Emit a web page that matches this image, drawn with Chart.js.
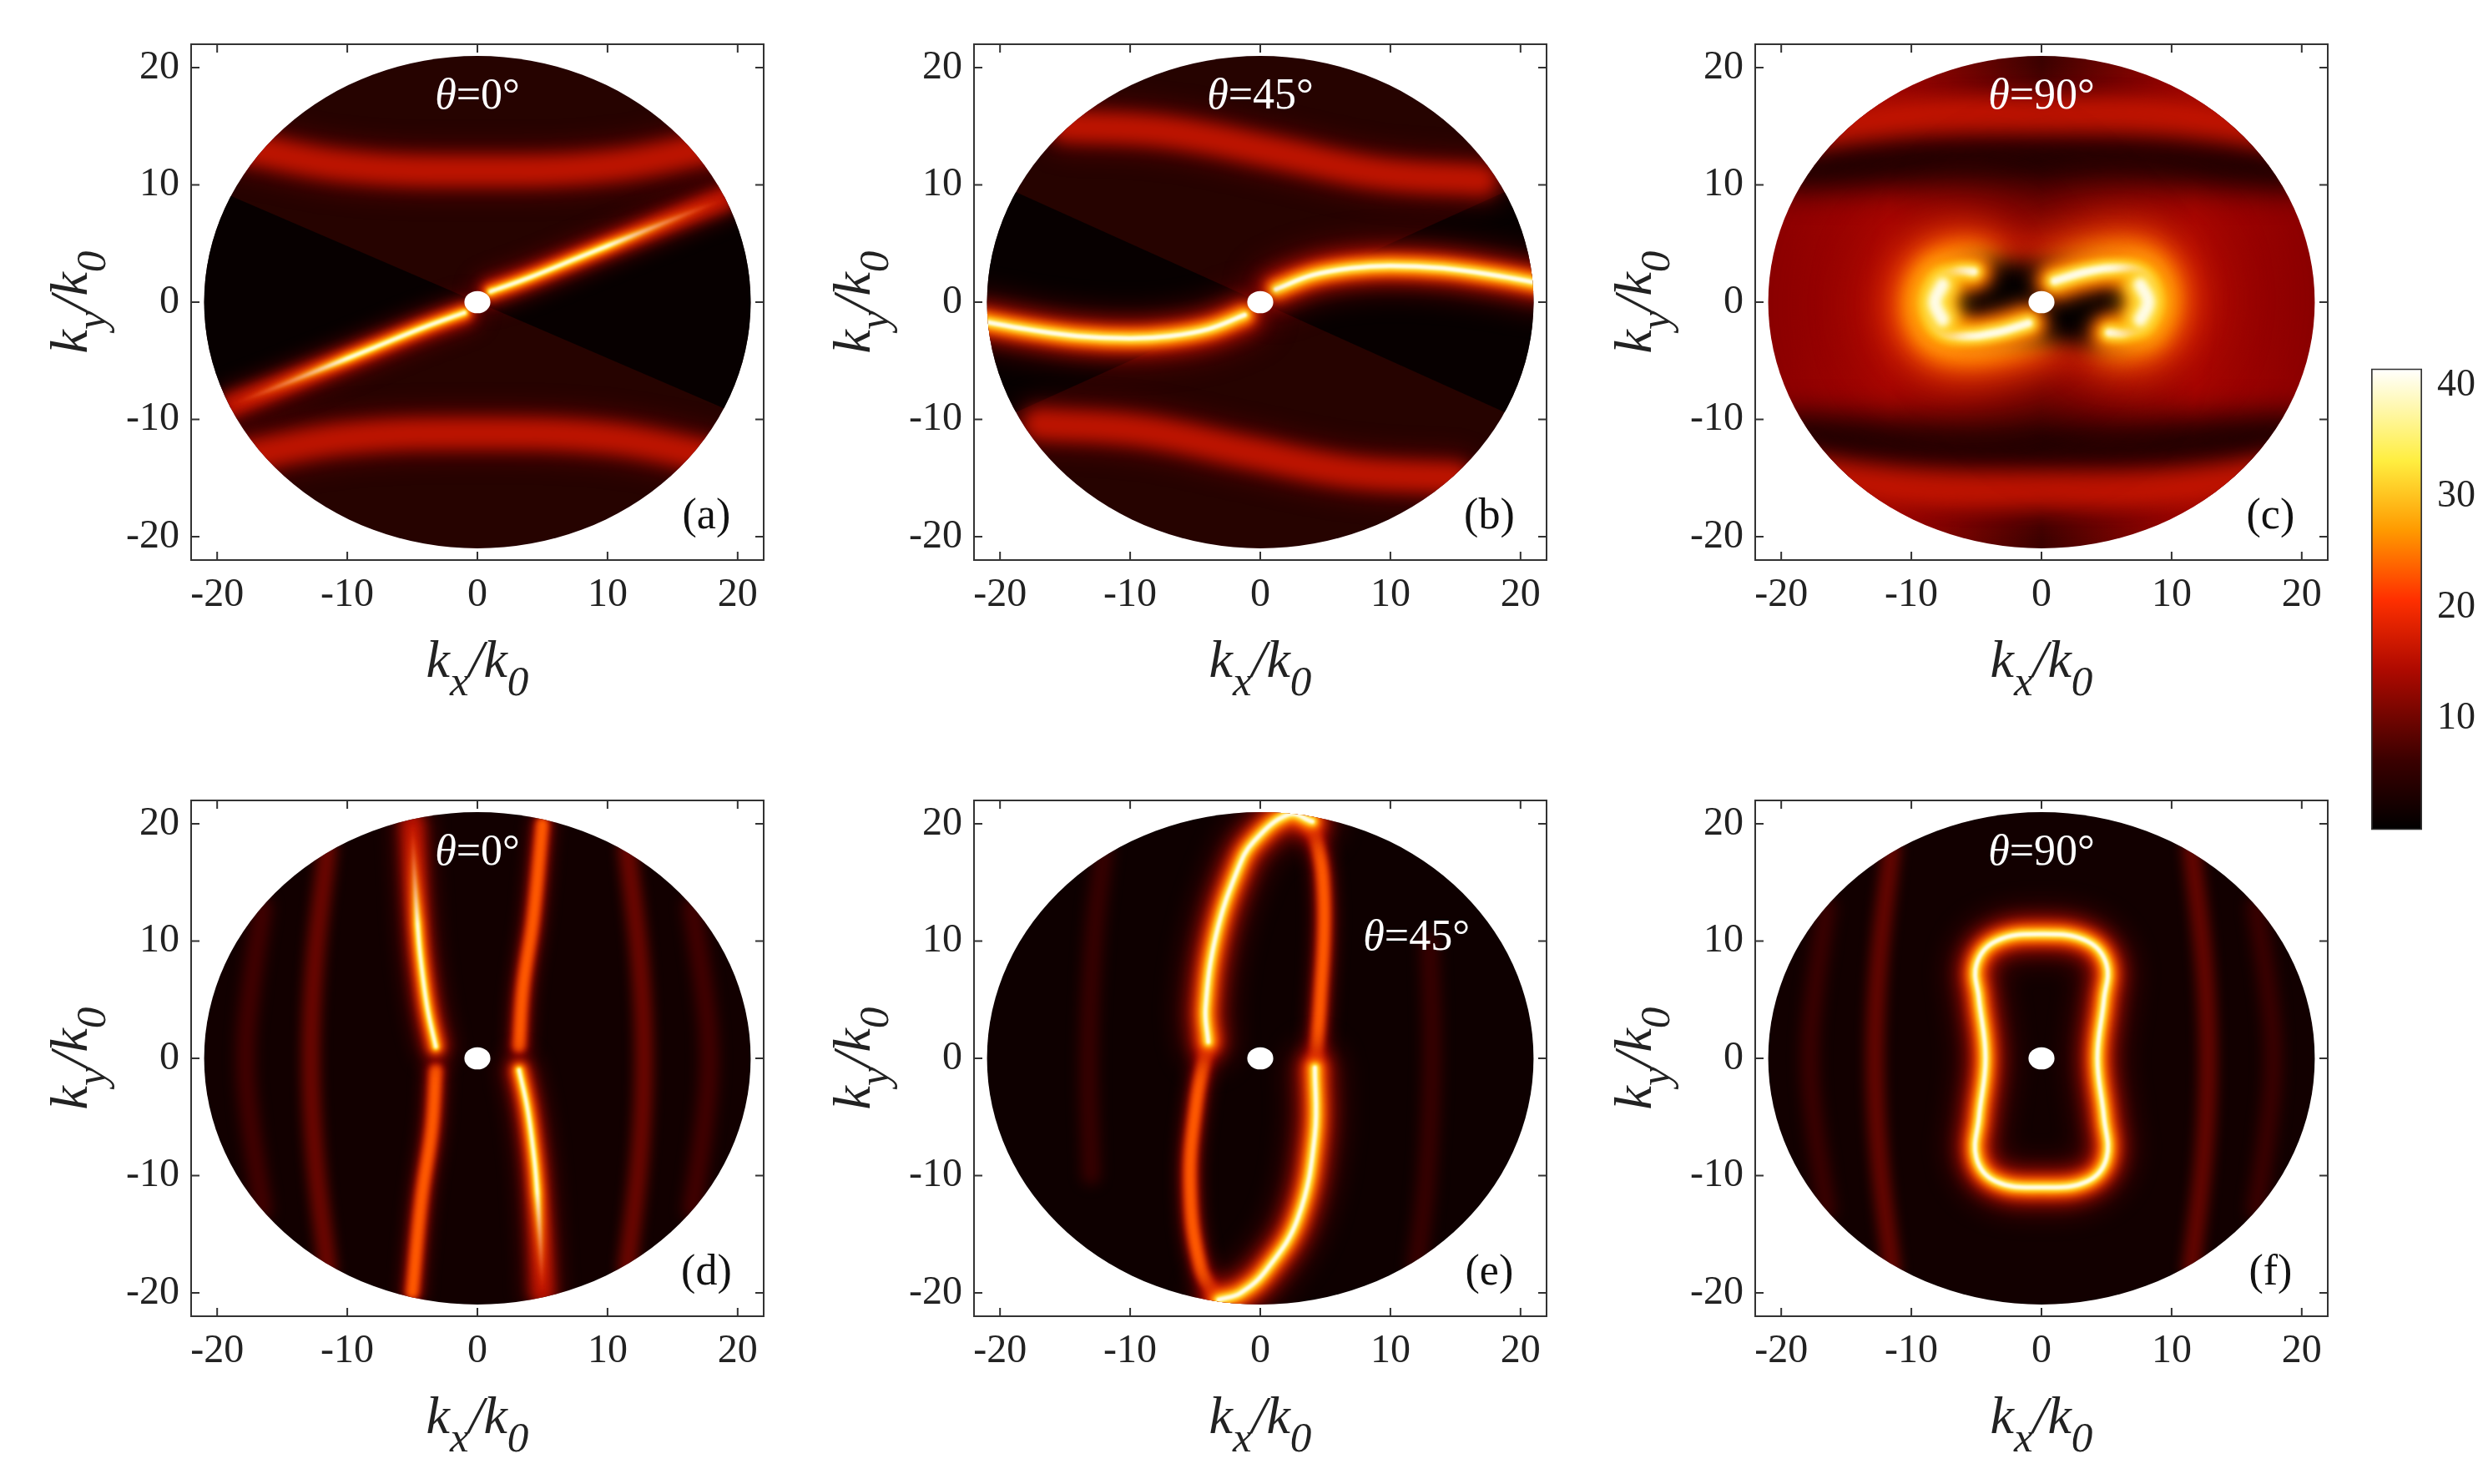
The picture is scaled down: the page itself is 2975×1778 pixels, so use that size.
<!DOCTYPE html>
<html><head><meta charset="utf-8">
<script src="https://cdn.jsdelivr.net/npm/chart.js@4"></script>
<style>body{margin:0;background:#fff;width:2975px;height:1778px;position:relative;overflow:hidden}canvas{position:absolute}</style>
</head><body>
<script>
// ---------- data (k-space units) ----------
const tickLabels = [-20, -10, 0, 10, 20];
const colorbarTicks = [10, 20, 30, 40];
const colorbarRange = [0, 41.5];
const panelLetters = ['(a)', '(b)', '(c)', '(d)', '(e)', '(f)'];
const thetaLabels = ['0', '45', '90', '0', '45', '90'];

// (a) theta=0, top row
const aBrightUR = [[1,0.9],[4,2.1],[8,3.9],[12,5.7],[16,7.5],[19,8.8]];
const aBrightLL = [[-1,-0.9],[-4,-2.1],[-8,-3.9],[-12,-5.7],[-16,-7.5],[-19,-8.8]];
const aWedgeL = [[-23,11],[0,0],[-23,-11]];
const aWedgeR = [[23,11],[0,0],[23,-11]];
const aArcTop = [[-18,13.2],[-10,11.6],[0,11.2],[10,11.6],[18,13.2]];
const aArcBot = [[-18,-13.2],[-10,-11.6],[0,-11.2],[10,-11.6],[18,-13.2]];
// (b) theta=45
const bBrightR = [[1.2,1.1],[4,2.3],[7,2.9],[10,3.1],[14,2.9],[18,2.3],[21.5,1.6]];
const bBrightL = [[-1.2,-1.1],[-4,-2.3],[-7,-2.9],[-10,-3.1],[-14,-2.9],[-18,-2.3],[-21.5,-1.6]];
const bWedgeL = [[-23,11.5],[0,0],[-23,-11.5]];
const bWedgeR = [[23,11.5],[0,0],[23,-11.5]];
const bArcTop = [[-15,15],[-7,14.5],[1,12.8],[9,11],[17,10.4]];
const bArcBot = [[15,-15],[7,-14.5],[-1,-12.8],[-9,-11],[-17,-10.4]];
// (c) theta=90
const cCrescR = [[1,1.8],[3.5,2.6],[6,2.9],[7.8,2.4],[8.6,0.5],[8,-1.8],[6.5,-2.6],[5.2,-2.6]];
const cCrescL = [[-1,-1.8],[-3.5,-2.6],[-6,-2.9],[-7.8,-2.4],[-8.6,-0.5],[-8,1.8],[-6.5,2.6],[-5.2,2.6]];
const cBlobR = [[7.6,1.5],[8.2,0],[7.6,-1.5]];
const cBlobL = [[-7.6,1.5],[-8.2,0],[-7.6,-1.5]];
const cCore = [[-4.5,0.3],[4.5,-0.3]];
const cArcTop = [[-19,14.5],[-10,15.8],[0,16],[10,15.8],[19,14.5]];
const cArcBot = [[-19,-14.5],[-10,-15.8],[0,-16],[10,-15.8],[19,-14.5]];
const cDarkTop = [[-19,12.8],[0,13],[19,12.8]];
const cDarkBot = [[-19,-12.8],[0,-13],[19,-12.8]];
// (d) theta=0, bottom row
const dBrightL = [[-5,20],[-4.8,15],[-4.5,10],[-4.2,7],[-3.8,4],[-3.2,1]];
const dBrightR = [[5,-20],[4.8,-15],[4.5,-10],[4.2,-7],[3.8,-4],[3.2,-1]];
const dFaintL = [[-3.2,-1],[-3.5,-6],[-4.3,-12],[-5,-20]];
const dFaintR = [[3.2,1],[3.5,6],[4.3,12],[5,20]];
const dOuterL = [[-11.5,18],[-12.5,8],[-12.8,0],[-12.5,-8],[-11.5,-18]];
const dOuterR = [[11.5,18],[12.5,8],[12.8,0],[12.5,-8],[11.5,-18]];
const dEdgeL = [[-16.5,13],[-17.5,5],[-17.8,0],[-17.5,-5],[-16.5,-13]];
const dEdgeR = [[16.5,13],[17.5,5],[17.8,0],[17.5,-5],[16.5,-13]];
// (e) theta=45
const eBrightUL = [[4,20.2],[2.2,20.8],[-0.5,18.5],[-1.7,16.2],[-3.4,10.5],[-4.2,4.3],[-4,1.4]];
const eFaintL = [[-4,1.4],[-4.9,-3.7],[-5.4,-10.8],[-4.6,-17.8],[-3.2,-20.7]];
const eBrightLR = [[4.2,-0.8],[4.2,-6.5],[2.9,-13.6],[0.5,-18],[-1.5,-20],[-3.2,-20.6]];
const eFaintR = [[4.2,-0.8],[4.6,4.8],[4.9,13.3],[4.2,19],[3,21]];
const eStreakL = [[-12,18],[-12.8,10],[-13.2,0],[-13,-10]];
const eStreakR = [[12,-18],[12.8,-10],[13.2,0],[13,10]];
// (f) theta=90
const fLoop = [[-4.8,5],[-5,8],[-3.5,10],[0,10.6],[3.5,10],[5,8],[4.8,5],[4.3,0],[4.8,-5],[5,-8.5],[3.5,-10.5],[0,-11],[-3.5,-10.5],[-5,-8.5],[-4.8,-5],[-4.3,0],[-4.8,5]];
const fOuterL = [[-11.5,18],[-12.5,8],[-12.8,0],[-12.5,-8],[-11.5,-18]];
const fOuterR = [[11.5,18],[12.5,8],[12.8,0],[12.5,-8],[11.5,-18]];
const fEdgeL = [[-16.5,13],[-17.5,5],[-17.8,0],[-17.5,-5],[-16.5,-13]];
const fEdgeR = [[16.5,13],[17.5,5],[17.8,0],[17.5,-5],[16.5,-13]];

// ---------- styling ----------
const glowLayers = [
  [64,'rgba(140,0,0,0.5)',16],[40,'rgba(215,25,0,0.8)',10],[26,'#ff5a00',6],
  [16,'#ffb000',4],[10,'#ffea50',2.5],[5,'#fffbe6',1.2]];
const pts = a => a.map(p=>({x:p[0],y:p[1]}));
function feature(arr, level, scale=1, from=0){
  return glowLayers.slice(from, level).map(([w,c,b]) => ({
    data: pts(arr), showLine:true, pointRadius:0, blur:b*scale,
    borderColor:c, borderWidth:w*scale, tension:0.4, borderCapStyle:'round', borderJoinStyle:'round'
  }));
}
function fading(arr, scale=1, keep=0.45){
  return glowLayers.map(([w,c,b],i) => ({
    data: pts(arr), showLine:true, pointRadius:0, blur:b*scale, fadeKeep: i>=2 ? keep : null,
    borderColor:c, borderWidth:w*scale, tension:0.4, borderCapStyle:'round', borderJoinStyle:'round'
  }));
}
function faint(arr, w, col, b){
  return [{data: pts(arr), showLine:true, pointRadius:0, blur:b,
    borderColor:col, borderWidth:w, tension:0.4, borderCapStyle:'round'}];
}
function wedge(arr, col, b=0){
  return [{data: pts(arr), showLine:true, pointRadius:0, blur:b, fill:'shape',
    backgroundColor:col, borderWidth:0, tension:0}];
}

const panels = [
  {left:229, top:53, bg:'#260300', letter:[17.6,-18.3], theta:[0,17.5],
   ds:[...wedge(aWedgeL,'rgba(0,0,0,0.8)',3), ...wedge(aWedgeR,'rgba(0,0,0,0.8)',3),
       ...feature(aArcTop,2,0.9), ...feature(aArcBot,2,0.9),
       ...fading(aBrightUR,0.7,0.5), ...fading(aBrightLL,0.7,0.5)]},
  {left:1167, top:53, bg:'#260300', letter:[17.6,-18.3], theta:[0,17.5],
   ds:[...wedge(bWedgeL,'rgba(0,0,0,0.8)',3), ...wedge(bWedgeR,'rgba(0,0,0,0.8)',3),
       ...feature(bArcTop,2,0.9), ...feature(bArcBot,2,0.9),
       ...feature(bBrightR,6,1), ...feature(bBrightL,6,1)]},
  {left:2103, top:53, bg:'grad', letter:[17.6,-18.3], theta:[0,17.5],
   ds:[...faint(cDarkTop,90,'rgba(0,0,0,0.9)',18), ...faint(cDarkBot,90,'rgba(0,0,0,0.9)',18),
       ...feature(cArcTop,2,1.1), ...feature(cArcBot,2,1.1),
       ...feature(cCrescR,5,3.4), ...feature(cCrescL,5,3.4),
       ...faint(cCore,95,'#050000',12),
       ...feature(cCrescR,6,1.8,2), ...feature(cCrescL,6,1.8,2),
       ...feature(cBlobR,6,3,3), ...feature(cBlobL,6,3,3)]},
  {left:229, top:959, bg:'#120000', letter:[17.6,-18.3], theta:[0,17.5],
   ds:[...faint(dEdgeL,22,'rgba(120,0,0,0.5)',8), ...faint(dEdgeR,22,'rgba(120,0,0,0.5)',8),
       ...faint(dOuterL,22,'rgba(170,10,0,0.6)',7), ...faint(dOuterR,22,'rgba(170,10,0,0.6)',7),
       ...feature(dFaintL,3,0.5), ...feature(dFaintR,3,0.5),
       ...fading(dBrightL.slice().reverse(),0.7,0.55), ...fading(dBrightR.slice().reverse(),0.7,0.55)]},
  {left:1167, top:959, bg:'#0e0000', letter:[17.6,-18.3], theta:[12,10.2],
   ds:[...faint(eStreakL,22,'rgba(110,0,0,0.45)',8), ...faint(eStreakR,22,'rgba(110,0,0,0.45)',8),
       ...feature(eFaintL,3,0.5), ...feature(eFaintR,3,0.5),
       ...feature(eBrightUL,6,0.95), ...feature(eBrightLR,6,0.95)]},
  {left:2103, top:959, bg:'#120000', letter:[17.6,-18.3], theta:[0,17.5],
   ds:[...faint(fEdgeL,22,'rgba(110,0,0,0.45)',8), ...faint(fEdgeR,22,'rgba(110,0,0,0.45)',8),
       ...faint(fOuterL,22,'rgba(170,10,0,0.55)',7), ...faint(fOuterR,22,'rgba(170,10,0,0.55)',7),
       ...feature(fLoop,6,0.95)]},
];

const PW = 686, PH = 618, PADL = 200, PADT = 20, PADR = 40, PADB = 200;
let FF = 'serif';
function pickFont(){
  const cv=document.createElement('canvas').getContext('2d');
  const probe='k20θ=45°(a)mWi';
  cv.font='60px monospace'; const mono=cv.measureText(probe).width;
  for (const f of ['Liberation Serif','Times New Roman','Tinos','DejaVu Serif','Noto Serif']){
    cv.font=`60px "${f}", monospace`;
    if (Math.abs(cv.measureText(probe).width-mono)>0.5) return `"${f}", serif`;
  }
  return 'serif';
}

function drawLabel(ctx, parts, size){
  let w = 0;
  parts.forEach(([t,s])=>{ctx.font = `italic ${s?size*0.8:size}px ${FF}`; w += ctx.measureText(t).width;});
  let x = -w/2;
  parts.forEach(([t,s])=>{ctx.font = `italic ${s?size*0.8:size}px ${FF}`;
    ctx.fillText(t, x, s? size*0.35 : 0); x += ctx.measureText(t).width;});
}

const decor = {
  id:'decor',
  beforeDatasetsDraw(chart){
    const {ctx, scales:{x,y}} = chart, p = chart.config.options.plugins.decor;
    const cx=x.getPixelForValue(0), cy=y.getPixelForValue(0);
    const rx=x.getPixelForValue(21)-cx, ry=cy-y.getPixelForValue(21);
    ctx.save();
    ctx.beginPath(); ctx.ellipse(cx,cy,rx,ry,0,0,2*Math.PI);
    if (p.bg==='grad'){
      const g=ctx.createLinearGradient(cx-rx,0,cx+rx,0);
      g.addColorStop(0,'#8a0000'); g.addColorStop(0.22,'#a80600'); g.addColorStop(0.5,'#3a0200');
      g.addColorStop(0.78,'#a80600'); g.addColorStop(1,'#8a0000');
      ctx.fillStyle=g;
    } else ctx.fillStyle=p.bg;
    ctx.fill(); ctx.clip();
  },
  beforeDatasetDraw(chart,args){
    const ds=chart.data.datasets[args.index], ctx=chart.ctx;
    ctx.filter = ds.blur? `blur(${ds.blur}px)` : 'none';
    if (ds.fadeKeep!=null){
      const m=args.meta.data, p0=m[0], p1=m[m.length-1];
      const g=ctx.createLinearGradient(p0.x,p0.y,p1.x,p1.y);
      g.addColorStop(0,ds.borderColor); g.addColorStop(ds.fadeKeep,ds.borderColor); g.addColorStop(1,'rgba(230,40,0,0)');
      args.meta.dataset.options.borderColor=g;
    }
  },
  afterDatasetDraw(chart){ chart.ctx.filter='none'; },
  afterDatasetsDraw(chart){
    const {ctx, chartArea:a, scales:{x,y}} = chart, p = chart.config.options.plugins.decor;
    ctx.restore();
    const cx=x.getPixelForValue(0), cy=y.getPixelForValue(0);
    ctx.save();
    ctx.fillStyle='#fff'; ctx.beginPath();
    ctx.ellipse(cx,cy,x.getPixelForValue(1)-cx,cy-y.getPixelForValue(0.95),0,0,2*Math.PI); ctx.fill();
    ctx.strokeStyle='#333'; ctx.lineWidth=2;
    ctx.strokeRect(a.left,a.top,a.right-a.left,a.bottom-a.top);
    ctx.fillStyle='#222'; ctx.font=`48px ${FF}`;
    tickLabels.forEach(v=>{
      const px=x.getPixelForValue(v), py=y.getPixelForValue(v);
      ctx.beginPath();
      ctx.moveTo(px,a.bottom); ctx.lineTo(px,a.bottom-10);
      ctx.moveTo(px,a.top); ctx.lineTo(px,a.top+10);
      ctx.moveTo(a.left,py); ctx.lineTo(a.left+10,py);
      ctx.moveTo(a.right,py); ctx.lineTo(a.right-10,py);
      ctx.stroke();
      ctx.textAlign='center'; ctx.textBaseline='top'; ctx.fillText(String(v),px,a.bottom+18);
      ctx.textAlign='right'; ctx.textBaseline='middle'; ctx.fillText(String(v),a.left-14,py);
    });
    ctx.fillStyle='#222'; ctx.textAlign='left'; ctx.textBaseline='alphabetic';
    ctx.save(); ctx.translate(cx, a.bottom+140);
    drawLabel(ctx, [['k',0],['x',1],['/k',0],['0',1]], 64); ctx.restore();
    ctx.save(); ctx.translate(a.left-125, cy); ctx.rotate(-Math.PI/2);
    drawLabel(ctx, [['k',0],['y',1],['/k',0],['0',1]], 64); ctx.restore();
    const tx=x.getPixelForValue(p.theta[0]), ty=y.getPixelForValue(p.theta[1]);
    ctx.fillStyle='#fff'; ctx.textBaseline='middle';
    ctx.font=`italic 52px ${FF}`; const w1=ctx.measureText('θ').width;
    ctx.font=`52px ${FF}`; const rest='='+p.thetaText+'°'; const w2=ctx.measureText(rest).width;
    ctx.textAlign='left';
    ctx.font=`italic 52px ${FF}`; ctx.fillText('θ',tx-(w1+w2)/2,ty);
    ctx.font=`52px ${FF}`; ctx.fillText(rest,tx-(w1+w2)/2+w1,ty);
    ctx.fillStyle='#111'; ctx.textAlign='center'; ctx.font=`52px ${FF}`;
    ctx.fillText(p.letterText, x.getPixelForValue(p.letter[0]), y.getPixelForValue(p.letter[1]));
    ctx.restore();
  }
};

function build(){
FF = pickFont();
panels.forEach((pn,i)=>{
  const c=document.createElement('canvas');
  c.width=PW+PADL+PADR; c.height=PH+PADT+PADB;
  c.style.left=(pn.left-PADL)+'px'; c.style.top=(pn.top-PADT)+'px';
  c.style.width=c.width+'px'; c.style.height=c.height+'px';
  document.body.appendChild(c);
  new Chart(c,{type:'scatter', data:{datasets:pn.ds.slice().reverse()}, plugins:[decor],
    options:{responsive:false, animation:false, devicePixelRatio:1,
      layout:{padding:{left:PADL,top:PADT,right:PADR,bottom:PADB}},
      scales:{x:{type:'linear',min:-22,max:22,display:false}, y:{type:'linear',min:-22,max:22,display:false}},
      plugins:{legend:{display:false}, tooltip:{enabled:false},
        decor:{bg:pn.bg, letter:pn.letter, theta:pn.theta, thetaText:thetaLabels[i], letterText:panelLetters[i]}}}});
});

const c=document.createElement('canvas');
const L=2841, T=404, W=61, H=628, AX=119;
c.width=W+AX; c.height=H;
c.style.left=L+'px'; c.style.top=T+'px';
c.style.width=c.width+'px'; c.style.height=c.height+'px';
document.body.appendChild(c);
new Chart(c,{type:'bar',
  data:{labels:['c'], datasets:[{data:[[colorbarRange[0],colorbarRange[1]]], barPercentage:1, categoryPercentage:1,
    backgroundColor:(ctx)=>{const ch=ctx.chart, a=ch.chartArea; if(!a) return '#000';
      const g=ch.ctx.createLinearGradient(0,a.bottom,0,a.top);
      g.addColorStop(0,'#000'); g.addColorStop(0.15,'#3a0000'); g.addColorStop(0.35,'#b00a00');
      g.addColorStop(0.5,'#ff3000'); g.addColorStop(0.65,'#ff9a00'); g.addColorStop(0.8,'#ffee40'); g.addColorStop(1,'#ffffff');
      return g;}, borderColor:'#333', borderWidth:2, borderSkipped:false}]},
  options:{responsive:false, animation:false, devicePixelRatio:1,
    layout:{padding:{left:0,top:2,right:0,bottom:2}},
    scales:{x:{display:false},
      y:{position:'right', min:colorbarRange[0], max:colorbarRange[1],
        afterBuildTicks:(s)=>{s.ticks=colorbarTicks.map(v=>({value:v}));},
        afterFit:(s)=>{s.width=AX;},
        grid:{display:false}, border:{display:false},
        ticks:{color:'#222', font:{family:FF, size:46}, padding:10}}},
    plugins:{legend:{display:false}, tooltip:{enabled:false}}}});
}
build();
</script>
</body></html>
